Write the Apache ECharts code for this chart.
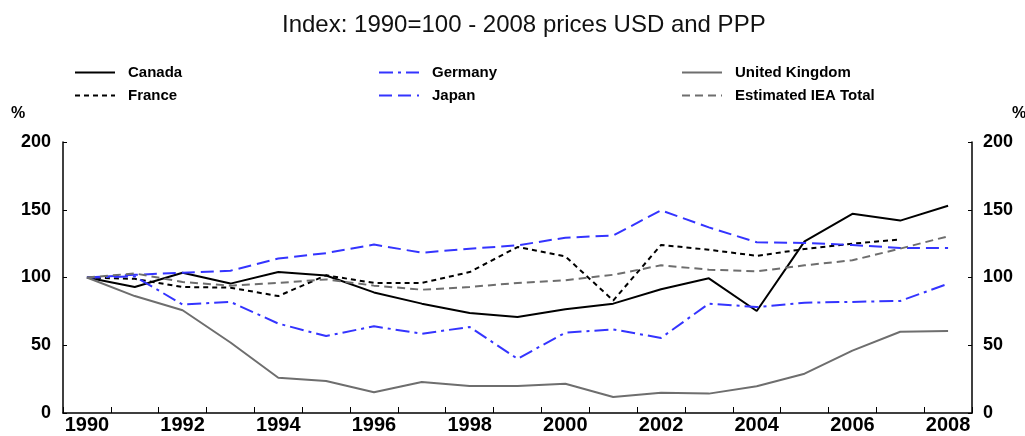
<!DOCTYPE html>
<html>
<head>
<meta charset="utf-8">
<script src="https://cdn.jsdelivr.net/npm/echarts@6/dist/echarts.min.js"></script>
<style>
html, body { margin: 0; padding: 0; background: #fff; }
#chart { width: 1025px; height: 436px; }
</style>
</head>
<body>
<div id="chart"></div>
<script>
// 年份和各国指数 (1990=100)
var years = ['1990','1991','1992','1993','1994','1995','1996','1997','1998','1999',
             '2000','2001','2002','2003','2004','2005','2006','2007','2008'];
var canada  = [100, 93, 103.5, 95.5, 104, 101.5, 89, 80.7, 73.8, 70.8, 76.5, 80.7, 91.3, 99.4, 75.3, 126.7, 147, 142, 153];
var france  = [100, 99, 93, 92.5, 86.3, 101.6, 96, 96, 104, 122.5, 115.6, 83, 124, 120.5, 116, 121, 125, 128, null];
var germany = [100, 100.8, 80, 82, 66, 56.8, 64, 58.5, 63.5, 40, 59.3, 61.7, 55.4, 80.7, 78.2, 81.4, 82, 82.7, 95.4];
var japan   = [100, 102, 103.5, 105, 114, 118, 124.3, 118.3, 121.3, 123.7, 129.4, 131, 149.6, 137, 126, 125.5, 124, 121.8, 121.8];
var uk      = [100, 86.3, 75.8, 52, 26, 23.6, 15.3, 22.9, 20, 20, 21.6, 11.8, 15, 14.3, 19.7, 29, 46, 60, 60.5];
var iea     = [100, 103, 96.7, 94, 96, 98.6, 94, 91, 93, 96, 98, 102, 109, 105.8, 104.5, 109, 112.7, 121.3, 130.4];

var BLUE = '#3434ff';
var GRAY = '#6e6e6e';
var FONT = "'Liberation Sans', Arial, sans-serif";

function lineSeries(name, data, color, type) {
    return {
        name: name,
        type: 'line',
        data: data,
        symbol: 'none',
        connectNulls: false,
        lineStyle: { color: color, width: 2, type: type },
        itemStyle: { color: color }
    };
}

// 图例分三列，每列两项
function legendCol(left, names) {
    return {
        left: left,
        top: 65,
        padding: 0,
        orient: 'vertical',
        itemWidth: 40,
        itemHeight: 14,
        itemGap: 8,
        data: names,
        selectedMode: false,
        itemStyle: { opacity: 0 },
        textStyle: { fontFamily: FONT, fontSize: 15, fontWeight: 'bold', color: '#000', padding: [0, 0, 0, 8] }
    };
}

var chart = echarts.init(document.getElementById('chart'));
var option = {
    animation: false,
    title: {
        text: 'Index: 1990=100 - 2008 prices USD and PPP',
        left: 277,
        top: 8,
        textStyle: { fontFamily: FONT, fontSize: 24, fontWeight: 'normal', color: '#111' }
    },
    legend: [
        legendCol(74, ['Canada', 'France']),
        legendCol(378, ['Germany', 'Japan']),
        legendCol(681, ['United Kingdom', 'Estimated IEA Total'])
    ],
    graphic: [
        { type: 'text', left: 11, top: 106, style: { text: '%', fontFamily: FONT, fontSize: 16, fontWeight: 'bold', fill: '#000' } },
        { type: 'text', left: 1012, top: 106, style: { text: '%', fontFamily: FONT, fontSize: 16, fontWeight: 'bold', fill: '#000' } }
    ],
    grid: { left: 63, right: 53, top: 142, bottom: 23 },
    xAxis: {
        type: 'category',
        data: years,
        boundaryGap: true,
        axisLine: { lineStyle: { color: '#000', width: 1.5 } },
        axisTick: { show: true, inside: true, length: 6, interval: 0, lineStyle: { color: '#000' } },
        axisLabel: { interval: 1, margin: 2, fontFamily: FONT, fontSize: 20, fontWeight: 'bold', color: '#000' },
        splitLine: { show: false }
    },
    yAxis: [
        {
            type: 'value', min: 0, max: 200, interval: 50, position: 'left',
            axisLine: { show: true, lineStyle: { color: '#000', width: 1.5 } },
            axisTick: { show: true, inside: true, length: 4, lineStyle: { color: '#000' } },
            axisLabel: { margin: 12, fontFamily: FONT, fontSize: 18, fontWeight: 'bold', color: '#000' },
            splitLine: { show: false }
        },
        {
            type: 'value', min: 0, max: 200, interval: 50, position: 'right',
            axisLine: { show: true, lineStyle: { color: '#000', width: 1.5 } },
            axisTick: { show: true, inside: true, length: 4, lineStyle: { color: '#000' } },
            axisLabel: { margin: 11, fontFamily: FONT, fontSize: 18, fontWeight: 'bold', color: '#000' },
            splitLine: { show: false }
        }
    ],
    series: [
        lineSeries('Canada', canada, '#000', 'solid'),
        lineSeries('France', france, '#000', [5, 4]),
        lineSeries('Germany', germany, BLUE, [14, 5, 3, 5]),
        lineSeries('Japan', japan, BLUE, [13, 6]),
        lineSeries('United Kingdom', uk, GRAY, 'solid'),
        lineSeries('Estimated IEA Total', iea, GRAY, [8, 5])
    ]
};
chart.setOption(option);
</script>
</body>
</html>
